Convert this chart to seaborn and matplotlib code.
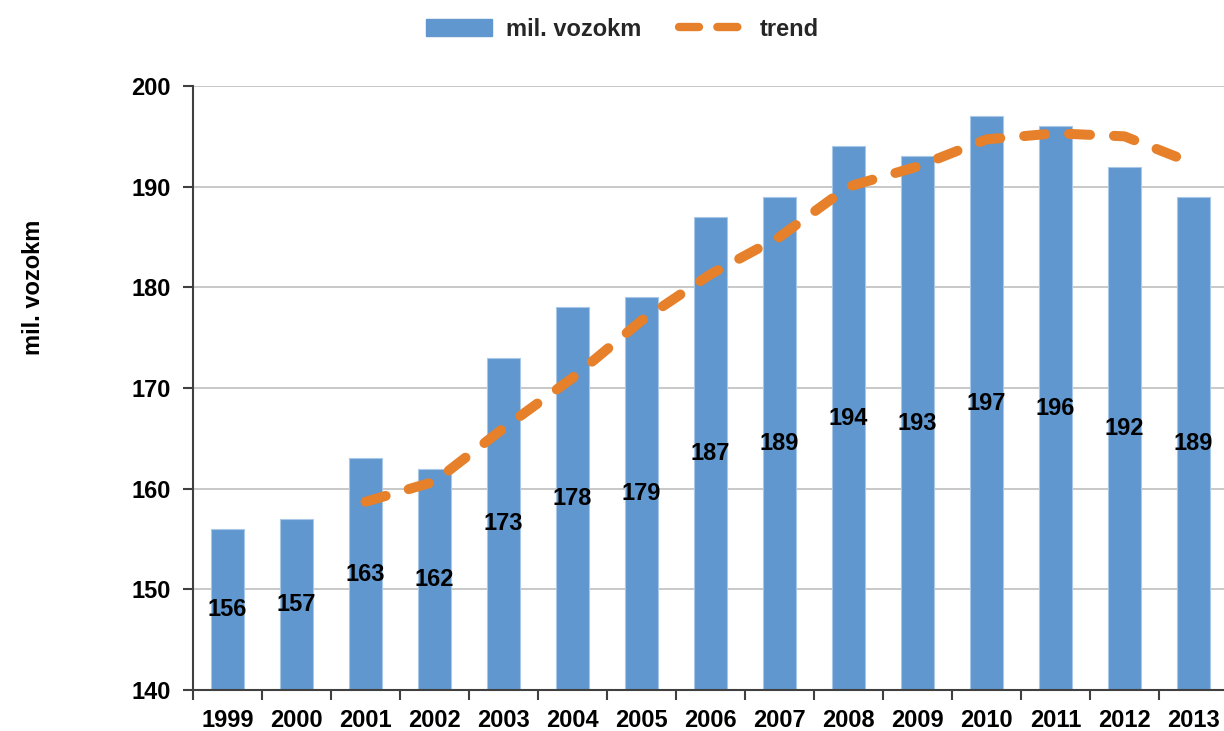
import matplotlib
matplotlib.use("Agg")
import matplotlib.pyplot as plt
from matplotlib.patches import Patch
from matplotlib.lines import Line2D
import seaborn as sns
import pandas as pd

# Annual wagon-kilometres (millions) and its 3-year moving-average trend
years = ["1999", "2000", "2001", "2002", "2003", "2004", "2005", "2006",
         "2007", "2008", "2009", "2010", "2011", "2012", "2013"]
vozokm = [156, 157, 163, 162, 173, 178, 179, 187, 189, 194, 193, 197, 196, 192, 189]
trend_years = years[2:]
trend = [158.7, 160.7, 166.0, 171.0, 176.7, 181.3, 185.0, 190.0,
         192.0, 194.7, 195.3, 195.0, 192.3]

bar_color = "#6097CE"
trend_color = "#E6802B"
axis_color = "#404040"
series_name = "mil. vozokm"
fs = 17

sns.set_theme(style="white")
plt.rcParams["font.family"] = ["Liberation Sans", "DejaVu Sans"]
plt.rcParams["font.weight"] = "bold"

W, H = 1224, 731
fig = plt.figure(figsize=(W / 100, H / 100), dpi=100)
ax = fig.add_axes([193 / W, 1 - 690 / H, 1035 / W, (690 - 86) / H])

df = pd.DataFrame({"year": years, "value": vozokm})
sns.barplot(data=df, x="year", y="value", color=bar_color, saturation=1,
            width=0.48, ax=ax, zorder=2, edgecolor="#A9C8E8", linewidth=0.8)

ymin, ymax = 140, 200
ax.set_ylim(ymin, ymax)
ax.set_xlim(-0.5, len(years) - 0.5)

# value labels in the middle of the visible bar
for i, v in enumerate(vozokm):
    ax.text(i, (ymin + v) / 2, f"{v}", ha="center", va="center",
            fontsize=fs, fontweight="bold", color="black", zorder=4)

# trend line
tx = [years.index(y) for y in trend_years]
ax.plot(tx, trend, color=trend_color, lw=7.2, dashes=(2.1, 2.4),
        dash_capstyle="round", solid_capstyle="round", zorder=3)

# grid and axes styling
ax.set_yticks(range(ymin, ymax + 1, 10))
ax.yaxis.grid(True, color="#C8C8C8", lw=1.4, zorder=0)
ax.set_axisbelow(True)
for s in ["top", "right"]:
    ax.spines[s].set_visible(False)
for s in ["left", "bottom"]:
    ax.spines[s].set_color(axis_color)
    ax.spines[s].set_linewidth(1.5)

ax.tick_params(axis="y", which="major", length=7, width=1.5, color=axis_color,
               labelsize=fs, pad=9, labelcolor="black", left=True)
ax.tick_params(axis="x", which="major", length=0, labelsize=fs, pad=14,
               labelcolor="black")
ax.set_xticks([i + 0.5 for i in range(-1, len(years))], minor=True)
ax.tick_params(axis="x", which="minor", length=7, width=1.5, color=axis_color,
               bottom=True)
for lbl in ax.get_xticklabels() + ax.get_yticklabels():
    lbl.set_fontweight("bold")

ax.set_xlabel("")
ax.set_ylabel("")
fig.text(33 / W, 1 - 287 / H, series_name, rotation=90, ha="center",
         va="center", fontsize=fs, fontweight="bold", color="black")

handles = [Patch(color=bar_color),
           Line2D([0], [0], color=trend_color, lw=6.0, dashes=(2.4, 2.2),
                  dash_capstyle="round")]
fig.legend(handles, [series_name, "trend"], loc="center",
           bbox_to_anchor=(622 / W, 1 - 29 / H), ncol=2, frameon=False,
           handlelength=2.8, columnspacing=1.6, handletextpad=0.6,
           prop={"weight": "bold", "size": fs})

fig.savefig("out.png", dpi=100)
